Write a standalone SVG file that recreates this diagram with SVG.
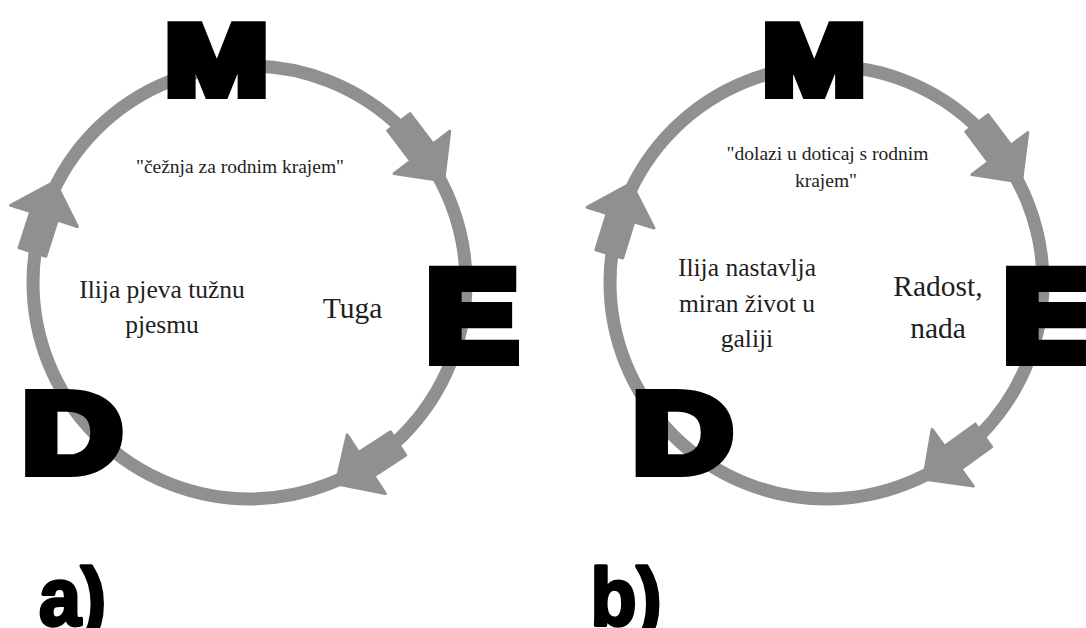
<svg xmlns="http://www.w3.org/2000/svg" width="1086" height="628" viewBox="0 0 1086 628">
<style>
.ring{fill:none;stroke:#909090;stroke-width:13}
.arrow{fill:#909090;stroke:#909090;stroke-width:3;stroke-linejoin:round}
.big{font-family:"Liberation Sans",Arial,sans-serif;font-weight:bold;fill:#000;stroke:#000;stroke-linejoin:miter;stroke-miterlimit:2;text-anchor:middle}
.lbl{font-family:"Liberation Sans",Arial,sans-serif;font-weight:bold;font-size:82px;fill:#000;stroke:#000;stroke-width:3.5;stroke-linejoin:round}
.t{font-family:"Liberation Serif","Times New Roman",serif;fill:#1e1e1e;text-anchor:middle}
.q{font-size:19.5px}
.m{font-size:25.5px}
.l{font-size:29.5px}
</style>
<defs>
<path id="arr" d="M-37,-14 L1,-14 L1,-35 L37,0 L1,35 L1,14 L-37,14 Z"/>
</defs>
<rect width="1086" height="628" fill="#fff"/>
<g id="connectors">
<circle class="ring" cx="249.5" cy="282.5" r="216.5"/>
<use href="#arr" class="arrow" transform="translate(421.3,151.6) rotate(52.7)"/>
<use href="#arr" class="arrow" transform="translate(367.1,463.7) rotate(147)"/>
<use href="#arr" class="arrow" transform="translate(43.7,216.8) rotate(287.7)"/>
<circle class="ring" cx="826.5" cy="282.5" r="216.5"/>
<use href="#arr" class="arrow" transform="translate(999.2,152.8) rotate(53.1)"/>
<use href="#arr" class="arrow" transform="translate(953.5,457.2) rotate(144)"/>
<use href="#arr" class="arrow" transform="translate(620.2,218.6) rotate(287.2)"/>
</g>
<g id="a-M"><text class="big" style="font-size:99px;stroke-width:10" transform="translate(216.5,94) scale(1.24,1)">M</text></g>
<g id="a-E"><text class="big" style="font-size:128.5px;stroke-width:12" transform="translate(472.2,360) scale(1.07,1)">E</text></g>
<g id="a-D"><text class="big" style="font-size:113px;stroke-width:10" transform="translate(72.3,472) scale(1.23,1)">D</text></g>
<g id="a-quote"><text class="t q" x="240" y="173">"čežnja za rodnim krajem"</text></g>
<g id="a-left"><text class="t m" x="162" y="298">Ilija pjeva tužnu</text><text class="t m" x="162" y="333">pjesmu</text></g>
<g id="a-right"><text class="t l" x="352.5" y="318">Tuga</text></g>
<g id="a-label"><text class="lbl" transform="translate(39,625) scale(0.92,1)">a)</text></g>
<g id="b-M"><text class="big" style="font-size:99px;stroke-width:10" transform="translate(814,94) scale(1.24,1)">M</text></g>
<g id="b-E"><text class="big" style="font-size:128.5px;stroke-width:12" transform="translate(1049.2,360) scale(1.07,1)">E</text></g>
<g id="b-D"><text class="big" style="font-size:113px;stroke-width:10" transform="translate(682.8,472) scale(1.23,1)">D</text></g>
<g id="b-quote"><text class="t q" x="827.5" y="160">"dolazi u doticaj s rodnim</text><text class="t q" x="826" y="187">krajem"</text></g>
<g id="b-left"><text class="t m" x="747" y="276">Ilija nastavlja</text><text class="t m" x="747" y="312">miran život u</text><text class="t m" x="747" y="347">galiji</text></g>
<g id="b-right"><text class="t l" x="938" y="296">Radost,</text><text class="t l" x="938" y="338">nada</text></g>
<g id="b-label"><text class="lbl" transform="translate(590.5,625) scale(0.92,1)">b)</text></g>
</svg>
